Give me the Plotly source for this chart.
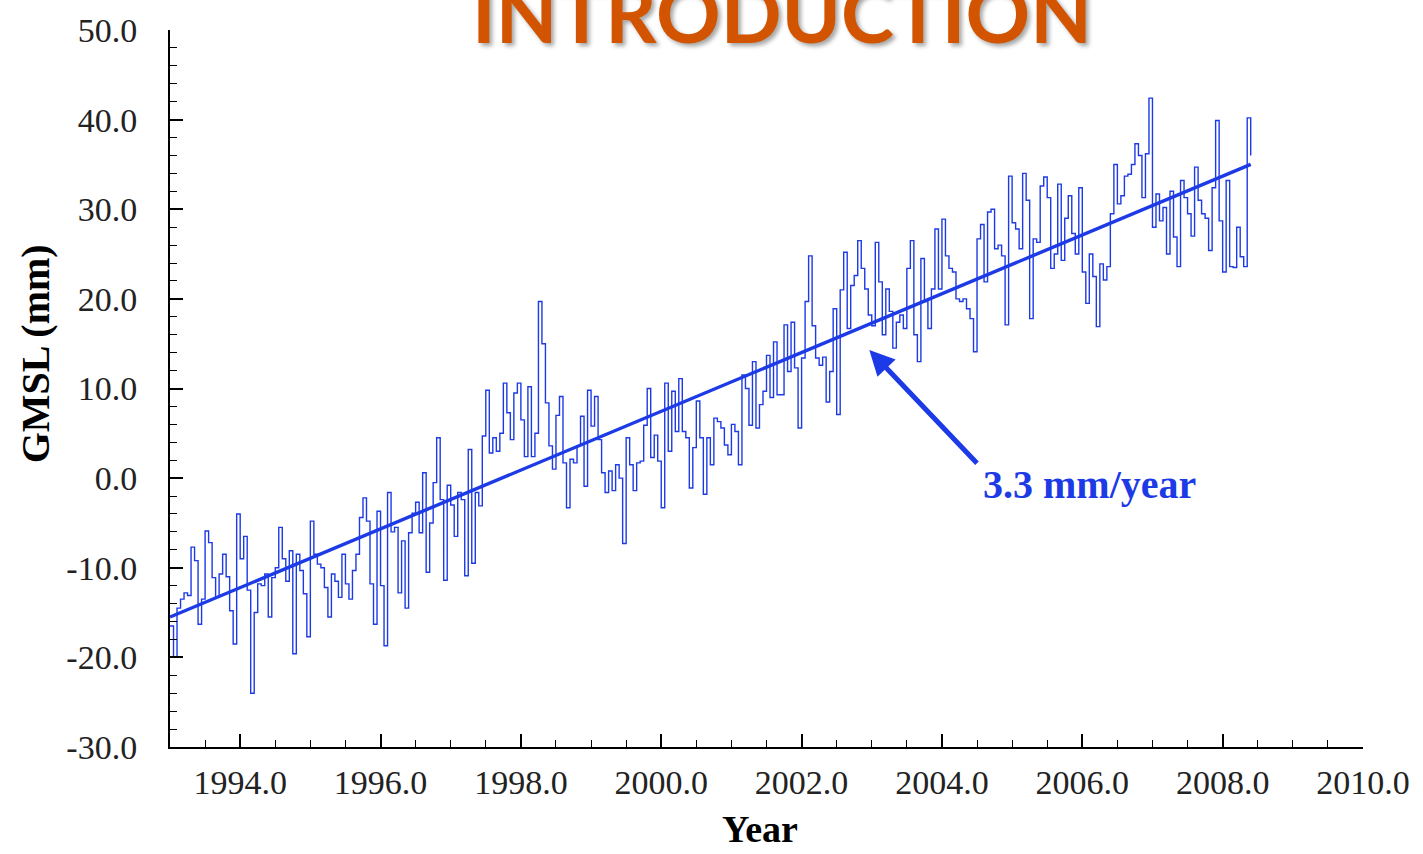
import plotly.graph_objects as go

# ---- data ----
start_year = 1993.0
sample_step = 0.05  # years between samples

gmsl_by_year = [
    [-16.5, -20.0, -14.5, -13.5, -12.8, -13.1, -7.7, -9.2, -16.3, -13.5, -5.9, -7.2, -11.1, -13.3, -10.7, -8.5, -11.0, -14.8, -18.5, -4.0],  # 1993
    [-9.0, -6.5, -12.5, -24.0, -15.0, -11.8, -12.0, -10.7, -15.5, -11.1, -10.0, -5.5, -9.0, -11.5, -8.1, -19.6, -8.5, -10.3, -12.9, -17.7],  # 1994
    [-4.8, -8.5, -9.6, -10.0, -12.2, -15.5, -10.7, -11.5, -13.3, -8.5, -11.8, -13.5, -10.3, -8.5, -4.4, -2.2, -4.8, -11.8, -16.3, -3.7],  # 1995
    [-12.0, -18.7, -1.6, -6.0, -5.5, -12.8, -7.0, -14.5, -6.1, -3.9, -2.7, -6.1, 0.6, -10.5, -5.0, -0.5, 4.5, -2.4, -11.4, -0.8],  # 1996
    [-3.0, -6.5, -1.6, -2.4, -10.9, 3.2, -9.5, -1.6, -3.1, 4.7, 9.8, 2.8, 4.5, 3.0, 5.0, 10.6, 7.3, 4.3, 9.5, 10.6],  # 1997
    [6.5, 2.4, 10.2, 2.4, 5.0, 19.7, 15.0, 8.4, 3.6, 1.0, 7.0, 9.1, 1.7, -3.3, 2.1, 1.7, 3.6, 6.9, -0.9, 9.8],  # 1998
    [5.8, 9.1, 4.3, 0.6, -1.6, 0.8, -1.4, 1.5, 0.0, -7.3, 4.5, 1.5, -1.4, 1.7, 1.9, 5.9, 10.0, 2.3, 4.8, 1.9],  # 1999
    [-3.3, 10.6, 3.0, 9.7, 5.2, 11.1, 5.2, 4.5, -1.1, 3.4, 8.6, 4.5, -1.8, 4.5, 1.5, 6.7, 6.3, 5.6, 3.7, 2.6],  # 2000
    [6.0, 5.2, 1.5, 11.5, 10.0, 5.9, 13.0, 5.6, 8.2, 9.7, 13.7, 9.0, 15.2, 9.3, 9.3, 17.1, 11.9, 17.4, 12.3, 5.6],  # 2001
    [13.4, 19.7, 24.8, 17.0, 13.4, 12.6, 13.5, 8.5, 11.9, 18.9, 7.1, 21.0, 25.2, 16.7, 21.5, 22.6, 26.5, 23.4, 21.1, 18.2],  # 2002
    [17.0, 26.3, 21.9, 16.0, 21.1, 18.6, 14.5, 17.4, 18.2, 16.7, 23.4, 26.5, 16.0, 13.0, 24.5, 19.7, 16.7, 21.1, 27.8, 21.1],  # 2003
    [28.9, 24.8, 23.4, 23.0, 20.0, 19.7, 20.0, 18.9, 17.8, 14.1, 26.7, 28.3, 21.9, 29.7, 30.0, 25.6, 26.0, 24.8, 17.1, 33.7],  # 2004
    [28.5, 27.8, 25.6, 34.0, 31.0, 17.8, 26.7, 26.3, 32.6, 33.6, 31.3, 23.4, 25.0, 32.8, 24.3, 29.0, 31.5, 27.3, 25.0, 32.4],  # 2005
    [23.0, 19.5, 25.0, 22.5, 16.9, 23.9, 22.1, 23.6, 29.5, 35.0, 30.6, 31.5, 33.7, 33.9, 35.0, 37.3, 36.0, 31.3, 36.2, 42.4],  # 2006
    [28.0, 31.7, 28.7, 30.2, 25.0, 32.0, 26.9, 23.6, 33.2, 31.3, 29.5, 27.0, 34.7, 31.0, 29.5, 29.0, 25.4, 32.4, 39.9, 28.7],  # 2007
    [23.0, 33.2, 23.6, 23.5, 28.0, 24.7, 23.6, 40.2, 36.0],  # 2008
]

trend_years = [1993.0, 2008.40]
trend_values = [-15.5, 35.0]

x_tick_values = [1994, 1996, 1998, 2000, 2002, 2004, 2006, 2008, 2010]
x_tick_labels = ["1994.0", "1996.0", "1998.0", "2000.0", "2002.0", "2004.0", "2006.0", "2008.0", "2010.0"]
y_tick_values = [-30, -20, -10, 0, 10, 20, 30, 40, 50]
y_tick_labels = ["-30.0", "-20.0", "-10.0", "0.0", "10.0", "20.0", "30.0", "40.0", "50.0"]

trend_label = "3.3 mm/year"
x_title = "Year"
y_title = "GMSL (mm)"
page_title = "INTRODUCTION"

# ---- build ----
gmsl = [v for row in gmsl_by_year for v in row]
years = [round(start_year + sample_step * i, 2) for i in range(len(gmsl))]

BLUE = "#1c3ae6"
SERIF = "Liberation Serif"

fig = go.Figure()
fig.add_trace(go.Scatter(x=years, y=gmsl, mode="lines",
                         line=dict(color=BLUE, width=1.4, shape="hv"),
                         showlegend=False, hoverinfo="skip"))
fig.add_trace(go.Scatter(x=trend_years, y=trend_values, mode="lines",
                         line=dict(color=BLUE, width=3.4),
                         showlegend=False, hoverinfo="skip"))

axis_common = dict(
    showline=True, linecolor="black", linewidth=2, mirror=False,
    ticks="inside", tickcolor="black", tickwidth=1.5, ticklen=13,
    showgrid=False, zeroline=False, tickmode="array",
    tickfont=dict(family=SERIF, size=34, color="#222222"),
)

fig.update_xaxes(range=[1993, 2010], tickvals=x_tick_values, ticktext=x_tick_labels,
                 minor=dict(dtick=0.5, ticks="inside", ticklen=7, tickcolor="black", tickwidth=1.2),
                 ticklabelstandoff=4, **axis_common)
fig.update_yaxes(range=[-30, 50], tickvals=y_tick_values, ticktext=y_tick_labels,
                 minor=dict(dtick=2, ticks="inside", ticklen=7, tickcolor="black", tickwidth=1.2),
                 ticklabelstandoff=24, **axis_common)

# arrow pointing at the trend line
fig.add_annotation(x=2002.965, y=14.3, ax=2004.52, ay=1.5, xref="x", yref="y",
                   axref="x", ayref="y", text="", showarrow=True,
                   arrowhead=2, arrowsize=1.0, arrowwidth=5, arrowcolor=BLUE)
fig.add_annotation(x=2006.1, y=-0.7, xref="x", yref="y", text="<b>" + trend_label + "</b>",
                   showarrow=False, xanchor="center", yanchor="middle",
                   font=dict(family=SERIF, size=40, color=BLUE))

# axis titles
fig.add_annotation(x=-0.113, y=0.548, xref="paper", yref="paper", text="<b>" + y_title + "</b>",
                   textangle=-90, showarrow=False, xanchor="center", yanchor="middle",
                   font=dict(family=SERIF, size=40, color="black"))
fig.add_annotation(x=0.4946, y=-0.115, xref="paper", yref="paper", text="<b>" + x_title + "</b>",
                   showarrow=False, xanchor="center", yanchor="middle",
                   font=dict(family=SERIF, size=38, color="black"))

# slide title (cut off at the top, as in the source)
fig.add_annotation(x=0.513, y=1.025, xref="paper", yref="paper", text="<b>" + page_title + "</b>",
                   showarrow=False, xanchor="center", yanchor="middle",
                   font=dict(family="Lato", size=80, color="#d35400",
                             shadow="3px 3px 4px rgba(0,0,0,0.35)"))

fig.update_layout(width=1423, height=854,
                  margin=dict(l=170, r=60, t=27, b=107),
                  paper_bgcolor="white", plot_bgcolor="white",
                  showlegend=False)

fig.write_html("out.html")
